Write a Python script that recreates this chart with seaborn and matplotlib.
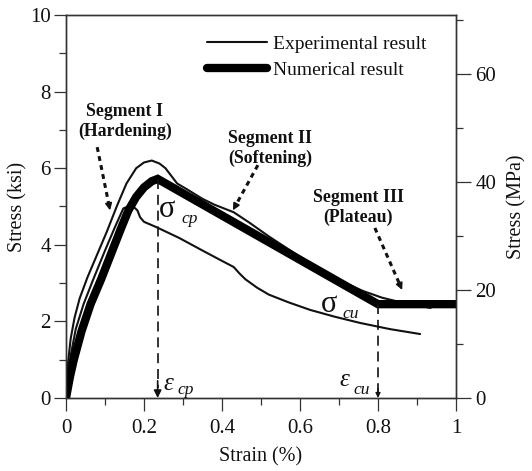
import numpy as np
import pandas as pd
import matplotlib
matplotlib.use("Agg")
import matplotlib.pyplot as plt
import seaborn as sns

# Strain (%) / stress (ksi) data
exp_upper_strain = [0, 0.005, 0.012, 0.022, 0.035, 0.055, 0.08, 0.105, 0.13, 0.155, 0.18,
                    0.20, 0.22, 0.24, 0.255, 0.27, 0.285, 0.31, 0.35, 0.38, 0.43, 0.47,
                    0.52, 0.58, 0.64, 0.70, 0.76, 0.81, 0.85, 0.89, 0.935]
exp_upper_stress = [0.2, 0.9, 1.55, 2.1, 2.6, 3.15, 3.75, 4.35, 5.0, 5.6, 6.0,
                    6.15, 6.2, 6.12, 6.0, 5.8, 5.6, 5.45, 5.2, 5.05, 4.85, 4.58,
                    4.22, 3.82, 3.42, 3.08, 2.8, 2.62, 2.52, 2.44, 2.35]

exp_lower_strain = [0, 0.01, 0.025, 0.045, 0.07, 0.10, 0.125, 0.147, 0.168, 0.183, 0.19,
                    0.20, 0.232, 0.29, 0.35, 0.40, 0.43, 0.445, 0.46, 0.49, 0.52, 0.57,
                    0.626, 0.69, 0.754, 0.83, 0.908]
exp_lower_stress = [0.1, 1.0, 1.8, 2.45, 3.1, 3.85, 4.45, 4.95, 5.04, 4.9, 4.72,
                    4.6, 4.46, 4.18, 3.85, 3.58, 3.42, 3.25, 3.1, 2.88, 2.7, 2.5,
                    2.3, 2.12, 1.96, 1.8, 1.67]

num_strain = [0, 0.01, 0.02, 0.04, 0.063, 0.09, 0.115, 0.14, 0.16, 0.18, 0.20, 0.22,
              0.235, 0.80, 1.0]
num_stress = [0, 0.55, 1.0, 1.75, 2.45, 3.1, 3.75, 4.4, 4.9, 5.25, 5.5, 5.66,
              5.72, 2.45, 2.45]

eps_cp, sig_cp = 0.235, 5.72
eps_cu, sig_cu = 0.80, 2.45

x_ticks = [0, 0.2, 0.4, 0.6, 0.8, 1.0]
x_tick_labels = ["0", "0.2", "0.4", "0.6", "0.8", "1"]
ksi_ticks = [0, 2, 4, 6, 8, 10]
mpa_ticks = [0, 20, 40, 60]
mpa_max = 70.9

sns.set_theme(style="ticks")
plt.rcParams["font.family"] = ["Liberation Serif", "DejaVu Serif"]

INK = "#111111"
AX = "#333333"

fig = plt.figure(figsize=(5.32, 4.71), dpi=100)
ax = fig.add_axes([66 / 532, 1 - 398 / 471, 390 / 532, 383 / 471])

up = pd.DataFrame({"strain": exp_upper_strain, "stress": exp_upper_stress})
lo = pd.DataFrame({"strain": exp_lower_strain, "stress": exp_lower_stress})
nu = pd.DataFrame({"strain": num_strain, "stress": num_stress})

sns.lineplot(data=up, x="strain", y="stress", sort=False, estimator=None, ax=ax,
             color=INK, lw=1.5, label="Experimental result", zorder=3)
sns.lineplot(data=lo, x="strain", y="stress", sort=False, estimator=None, ax=ax,
             color=INK, lw=1.5, zorder=3)
sns.lineplot(data=nu, x="strain", y="stress", sort=False, estimator=None, ax=ax,
             color="black", lw=6.0, label="Numerical result", zorder=4,
             solid_joinstyle="miter")

ax.set_xlim(0, 1)
ax.set_ylim(0, 10)
ax.set_xticks(x_ticks)
ax.set_xticklabels(x_tick_labels)
ax.set_xticks(np.arange(0.1, 1.0, 0.2), minor=True)
ax.set_yticks(ksi_ticks)
ax.set_yticklabels([str(t) for t in ksi_ticks])
ax.set_yticks([1, 3, 5, 7, 9], minor=True)
ax.set_xlabel("Strain (%)", fontsize=14.5, color=INK, labelpad=7)
ax.set_ylabel("Stress (ksi)", fontsize=14.5, color=INK, labelpad=2)
ax.tick_params(axis="both", which="major", direction="out", length=9, width=0.9,
               color=AX, labelsize=15, labelcolor=INK, pad=2)
ax.tick_params(axis="x", which="major", pad=6)
ax.tick_params(axis="both", which="minor", direction="out", length=5, width=0.9, color=AX)

ax2 = ax.twinx()
ax2.set_ylim(0, mpa_max)
ax2.set_yticks(mpa_ticks)
ax2.set_yticklabels([str(t) for t in mpa_ticks])
ax2.set_yticks([10, 30, 50, 70], minor=True)
ax2.set_ylabel("Stress (MPa)", fontsize=14.5, color=INK, labelpad=8)
ax2.tick_params(axis="y", which="major", direction="out", length=11, width=0.9,
                color=AX, labelsize=15, labelcolor=INK, pad=3)
ax2.tick_params(axis="y", which="minor", direction="out", length=5, width=0.9, color=AX)

for a in (ax, ax2):
    for s in a.spines.values():
        s.set_color(AX)
        s.set_linewidth(1.0)
        s.set_visible(True)

# dashed guides at the peak and at the end of softening
ax.plot([eps_cp, eps_cp], [sig_cp, 0.25], ls=(0, (6, 3.5)), color=INK, lw=1.2, zorder=5)
ax.annotate("", xy=(eps_cp, 0.0), xytext=(eps_cp, 0.45),
            arrowprops=dict(arrowstyle="-|>", color=INK, lw=1.2,
                            mutation_scale=11, shrinkA=0, shrinkB=0), zorder=5)
ax.plot([eps_cu, eps_cu], [sig_cu, 0.15], ls=(0, (6, 3.5)), color=INK, lw=1.2, zorder=5)
ax.annotate("", xy=(eps_cu, 0.0), xytext=(eps_cu, 0.25),
            arrowprops=dict(arrowstyle="-|>", color=INK, lw=1.0,
                            mutation_scale=7, shrinkA=0, shrinkB=0), zorder=5)

# symbols
ax.text(0.26, 4.91, "σ", fontsize=22, ha="center", va="center", color=INK)
ax.text(0.297, 4.68, "cp", fontsize=12.5, style="italic", ha="left", va="center", color=INK)
ax.text(0.675, 2.43, "σ", fontsize=22, ha="center", va="center", color=INK)
ax.text(0.71, 2.2, "cu", fontsize=12.5, style="italic", ha="left", va="center", color=INK)
ax.text(0.262, 0.37, "ε", fontsize=18, style="italic", ha="center", va="center", color=INK)
ax.text(0.285, 0.2, "cp", fontsize=12.5, style="italic", ha="left", va="center", color=INK)
ax.text(0.713, 0.47, "ε", fontsize=18, style="italic", ha="center", va="center", color=INK)
ax.text(0.736, 0.22, "cu", fontsize=12.5, style="italic", ha="left", va="center", color=INK)

# segment annotations with dotted pointers
segments = [
    ("Segment I\n(Hardening)", (0.151, 7.22), (0.08, 6.55), (0.113, 4.9)),
    ("Segment II\n(Softening)", (0.523, 6.52), (0.492, 6.08), (0.428, 4.9)),
    ("Segment III\n(Plateau)", (0.749, 4.98), (0.792, 4.44), (0.862, 2.82)),
]
for label, pos, start, end in segments:
    ax.text(pos[0], pos[1], label, fontsize=12.8, fontweight="bold", ha="center",
            va="center", multialignment="center", color=INK, linespacing=1.2)
    sx, sy = start
    ex, ey = end
    fx = sx + (ex - sx) * 0.9
    fy = sy + (ey - sy) * 0.9
    ax.plot([sx, fx], [sy, fy], ls=(0, (1.6, 1.4)), color=INK, lw=2.2, zorder=6)
    ax.annotate("", xy=end, xytext=(fx, fy),
                arrowprops=dict(arrowstyle="-|>", color=INK, lw=1.2,
                                mutation_scale=10, shrinkA=0, shrinkB=0), zorder=6)

leg = ax.legend(loc="upper left", bbox_to_anchor=(0.362, 0.948), frameon=False,
                fontsize=14, handlelength=3.1, handletextpad=0.3, borderpad=0,
                borderaxespad=0, labelspacing=0.45)
for t in leg.get_texts():
    t.set_color(INK)
for h in leg.get_lines():
    h.set_solid_capstyle("round")

fig.savefig("out.png", dpi=100)
